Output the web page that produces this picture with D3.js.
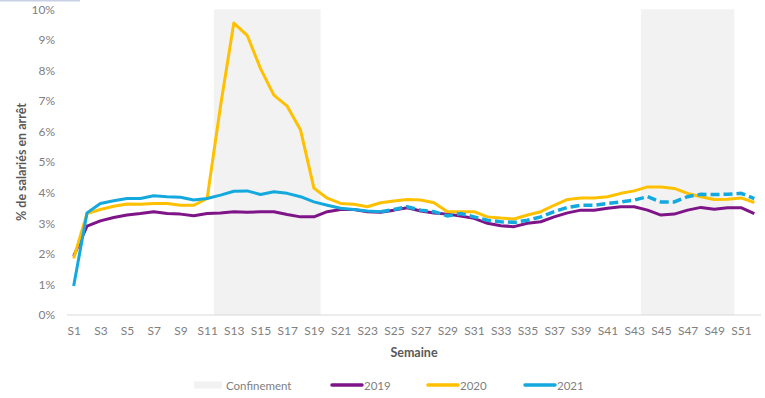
<!DOCTYPE html>
<html><head><meta charset="utf-8">
<script src="https://cdn.jsdelivr.net/npm/d3@7"></script>
<style>
body{margin:0;background:#fff;}
svg{display:block;font-family:Lato,"Open Sans",sans-serif;}
</style></head>
<body><svg id="c" width="765" height="398"></svg>
<script>
const weeks = d3.range(1,53).map(i=>"S"+i);
const tickLabels = weeks.filter((d,i)=>i%2===0);
const yTicks = [0,0.01,0.02,0.03,0.04,0.05,0.06,0.07,0.08,0.09,0.10];
const confinement = [["S12","S19"],["S44","S50"]];
const v2019 = [1.93,2.91,3.08,3.19,3.27,3.32,3.38,3.32,3.30,3.25,3.32,3.34,3.38,3.36,3.38,3.38,3.29,3.21,3.21,3.38,3.45,3.45,3.38,3.36,3.43,3.51,3.40,3.34,3.30,3.24,3.16,3.00,2.92,2.89,3.00,3.05,3.21,3.34,3.43,3.43,3.49,3.54,3.54,3.43,3.27,3.30,3.43,3.52,3.46,3.51,3.51,3.32];
const v2020 = [1.85,3.32,3.45,3.56,3.63,3.62,3.65,3.65,3.59,3.59,3.81,6.83,9.55,9.15,8.06,7.19,6.83,6.05,4.15,3.82,3.65,3.62,3.54,3.67,3.73,3.78,3.76,3.67,3.38,3.38,3.38,3.21,3.17,3.14,3.27,3.38,3.59,3.78,3.83,3.83,3.87,3.98,4.06,4.19,4.19,4.14,3.98,3.87,3.78,3.79,3.83,3.68];
const v2021 = [0.95,3.34,3.65,3.74,3.81,3.81,3.90,3.87,3.85,3.76,3.81,3.92,4.05,4.06,3.94,4.03,3.98,3.87,3.70,3.59,3.49,3.45,3.40,3.38,3.45,3.54,3.43,3.38,3.24,3.32,3.21,3.10,3.05,3.03,3.10,3.21,3.38,3.52,3.59,3.59,3.65,3.70,3.76,3.87,3.70,3.70,3.87,3.95,3.94,3.95,3.98,3.81];
const solidEnd2021 = "S24";
const seriesNames = ["2019","2020","2021"];
const colors = {"2019":"#7e1488","2020":"#ffc000","2021":"#13a9df"};

const svg = d3.select("#c");
const x = d3.scalePoint().domain(weeks).range([67,761]).padding(0.5);
const xb = d3.scaleBand().domain(weeks).range([67,761]).paddingInner(0).paddingOuter(0);
const y = d3.scaleLinear().domain([0,0.10]).range([315,9.3]);

// faint top-left border artifact
svg.append("rect").attr("x",0).attr("y",0).attr("width",80).attr("height",1.5).attr("fill","#c8d0e6");

// confinement shading
svg.selectAll("rect.conf").data(confinement).join("rect").attr("class","conf")
  .attr("x",d=>xb(d[0])).attr("width",d=>xb(d[1])+xb.bandwidth()-xb(d[0]))
  .attr("y",y(0.10)).attr("height",y(0)-y(0.10)).attr("fill","#f2f2f2");

// y axis labels
const yAxis = d3.axisLeft(y).tickValues(yTicks).tickFormat(d3.format(".0%")).tickSize(0).tickPadding(0);
const gy = svg.append("g").attr("transform","translate(55,0)").call(yAxis);
gy.select(".domain").remove();
gy.selectAll("text").attr("fill","#808080").style("font-size","12px").style("font-family","Lato");

// x axis
const xAxis = d3.axisBottom(x).tickValues(tickLabels).tickSize(0).tickPadding(11);
const gx = svg.append("g").attr("transform",`translate(0,${y(0)})`).call(xAxis);
gx.select(".domain").attr("stroke","#d9d9d9").attr("stroke-width",1.2).attr("d","M67,0H761");
gx.selectAll("text").attr("fill","#808080").style("font-size","12px").style("font-family","Lato");

// lines
const line = d3.line().x((d)=>x(d.w)).y(d=>y(d.v/100));
const mk = arr => arr.map((v,i)=>({w:weeks[i],v}));
svg.append("path").datum(mk(v2019)).attr("d",line).attr("fill","none")
  .attr("stroke",colors["2019"]).attr("stroke-width",3).attr("stroke-linejoin","round");
svg.append("path").datum(mk(v2020)).attr("d",line).attr("fill","none")
  .attr("stroke",colors["2020"]).attr("stroke-width",3).attr("stroke-linejoin","round");
const d21 = mk(v2021);
const cut = weeks.indexOf(solidEnd2021);
svg.append("path").datum(d21.slice(cut)).attr("d",line).attr("fill","none")
  .attr("stroke",colors["2021"]).attr("stroke-width",3.5).attr("stroke-dasharray","9,4");
svg.append("path").datum(d21.slice(0,cut+1)).attr("d",line).attr("fill","none")
  .attr("stroke",colors["2021"]).attr("stroke-width",3).attr("stroke-linejoin","round");

// axis titles
svg.append("text").attr("x",414).attr("y",357).attr("text-anchor","middle")
  .attr("fill","#595959").style("font-size","12.5px").style("font-weight","bold").text("Semaine");
svg.append("text").attr("transform","translate(26,162) rotate(-90)").attr("text-anchor","middle")
  .attr("fill","#595959").style("font-size","12.5px").style("font-weight","bold").text("% de salariés en arrêt");

// legend
const lg = svg.append("g");
lg.append("rect").attr("x",194).attr("y",381.5).attr("width",28).attr("height",7).attr("fill","#f2f2f2");
lg.append("text").attr("x",226).attr("y",389.5).attr("fill","#808080").style("font-size","11.5px").text("Confinement");
const lx = {"2019":332,"2020":428,"2021":525};
seriesNames.forEach(s=>{
  lg.append("line").attr("x1",lx[s]).attr("x2",lx[s]+30).attr("y1",385).attr("y2",385)
    .attr("stroke",colors[s]).attr("stroke-width",3.5).attr("stroke-linecap","round");
  lg.append("text").attr("x",lx[s]+32).attr("y",389.5).attr("fill","#808080").style("font-size","11.5px").text(s);
});
</script></body></html>
